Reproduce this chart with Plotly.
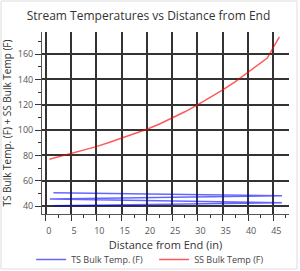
import plotly.graph_objects as go

# Tube side (multi-pass, back and forth along the exchanger)
ts_x = [1.5, 46.7, 0.8, 46.7, 1.5]
ts_y = [40.2, 42.6, 45.5, 48.1, 50.5]

# Shell side
ss_x = [0.7, 2.5, 5, 7.5, 10, 12.5, 15, 17.5, 20, 22.5, 25, 27.5, 30, 32.5, 35, 37.5, 40, 43.8, 46.2]
ss_y = [76.9, 78.8, 81.0, 83.8, 86.9, 90.1, 93.5, 97.0, 100.6, 104.8, 109.3, 114.4, 119.8, 125.6, 131.7, 138.3, 145.4, 156.8, 173.6]

title = "Stream Temperatures vs Distance from End"
x_title = "Distance from End (in)"
y_title = "TS Bulk Temp. (F) + SS Bulk Temp (F)"

FONT = "Open Sans"

fig = go.Figure()
fig.add_trace(go.Scatter(x=ts_x, y=ts_y, mode="lines", name="TS Bulk Temp. (F)",
                         line=dict(color="rgba(0,0,255,0.6)", width=1.5)))
fig.add_trace(go.Scatter(x=ss_x, y=ss_y, mode="lines", name="SS Bulk Temp (F)",
                         line=dict(color="rgba(255,0,0,0.65)", width=1.5)))

L, R, T, B = 42, 11, 32, 57
W, H = 300, 271
pw, ph = W - L - R, H - T - B

fig.update_layout(
    width=W, height=H,
    margin=dict(l=L, r=R, t=T, b=B, autoexpand=False),
    paper_bgcolor="white", plot_bgcolor="white",
    font=dict(family=FONT, color="#444"),
    title=dict(text=title, x=0.495, xanchor="center", y=1 - 16 / H, yanchor="middle",
               font=dict(size=12, color="#333", family=FONT)),
    showlegend=True,
    legend=dict(orientation="h", x=-0.044, xanchor="left", y=(H - B - 245) / ph, yanchor="top",
                font=dict(size=9, color="#444"), bgcolor="rgba(0,0,0,0)",
                entrywidth=78, entrywidthmode="pixels"),
    xaxis=dict(range=[-0.75, 48.1], tick0=0, dtick=5, showgrid=True,
               gridcolor="#333", gridwidth=1.5, zeroline=False,
               showline=True, linecolor="#555", linewidth=1,
               ticks="outside", ticklen=6, tickcolor="#333", tickwidth=1,
               minor=dict(dtick=2.5, ticks="outside", ticklen=3, tickcolor="#333", showgrid=False),
               tickfont=dict(size=9, color="#555"), ticklabelshift=3, ticklabelstandoff=2,
               title=dict(text=x_title, font=dict(size=11, color="#333"), standoff=2)),
    yaxis=dict(range=[33.7, 177.4], tick0=0, dtick=20, showgrid=True,
               gridcolor="#333", gridwidth=1.5, zeroline=False,
               showline=True, linecolor="#555", linewidth=1,
               ticks="outside", ticklen=6, tickcolor="#333", tickwidth=1,
               minor=dict(dtick=10, ticks="outside", ticklen=3, tickcolor="#333", showgrid=False),
               tickfont=dict(size=9, color="#555"),
               title=dict(text=y_title, font=dict(size=10, color="#333"), standoff=4)),
)

# Light outer frame around the chart
fig.add_shape(type="rect", xref="paper", yref="paper",
              x0=(1 - L) / pw, x1=(297 - L) / pw,
              y0=(H - B - 269) / ph, y1=(H - B - 1) / ph,
              line=dict(color="#ddd", width=1), fillcolor="rgba(0,0,0,0)", layer="below")

fig.write_html("out.html")
